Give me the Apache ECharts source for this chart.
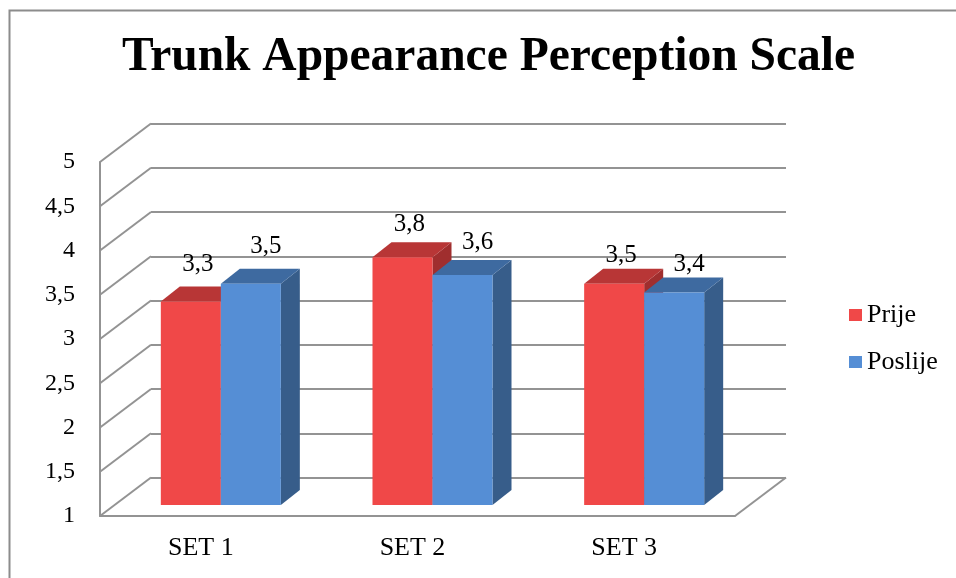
<!DOCTYPE html>
<html><head><meta charset="utf-8">
<script src="https://cdn.jsdelivr.net/npm/echarts@6/dist/echarts.min.js"></script>
<style>html,body{margin:0;padding:0;background:#fff}#c{width:956px;height:578px}</style>
</head><body><div id="c"></div>
<script>
const chartTitle = 'Trunk Appearance Perception Scale';
const categories = ['SET 1', 'SET 2', 'SET 3'];
const seriesNames = ['Prije', 'Poslije'];
const prije = [3.3, 3.8, 3.5];
const poslije = [3.5, 3.6, 3.4];
const yTicks = [1, 1.5, 2, 2.5, 3, 3.5, 4, 4.5, 5];

const Y_MIN = 1, Y_MAX = 5, Y_STEP = 0.5;
const FONT = '"Liberation Serif","Times New Roman",serif';
const GRID = {left: 100, top: 162, width: 635, height: 354};
const WALL = {dx: 51, dy: -38.5};
const BARPLANE = {dx: 15, dy: -11};
const BARDEPTH = {dx: 19, dy: -15};
const LINE = '#939393';
const LABEL_DX = [7, 15];
const colors = [
  {front: '#F04848', top: '#B83636', side: '#A02E2E'},
  {front: '#558ED5', top: '#3E6AA0', side: '#375D8A'}
];

function fmt(v) { return String(v).replace('.', ','); }

function barRender(si) {
  return function (params, api) {
    const idx = api.value(0), v = api.value(1);
    const top = api.coord([idx, v]);
    const base = api.coord([idx, Y_MIN]);
    const band = api.size([1, 0])[0];
    const w = band * 0.2835;
    const x0 = top[0] + BARPLANE.dx + (si === 0 ? -w : 0);
    const x1 = x0 + w;
    const yt = top[1] + BARPLANE.dy, yb = base[1] + BARPLANE.dy;
    const dx = BARDEPTH.dx, dy = BARDEPTH.dy;
    const c = colors[si];
    const lift = 37 - 4.5 * idx;
    return {type: 'group', children: [
      {type: 'polygon', shape: {points: [[x1, yt], [x1 + dx, yt + dy], [x1 + dx, yb + dy], [x1, yb]]}, style: {fill: c.side}},
      {type: 'polygon', shape: {points: [[x0, yt], [x0 + dx, yt + dy], [x1 + dx, yt + dy], [x1, yt]]}, style: {fill: c.top}},
      {type: 'rect', shape: {x: x0, y: yt, width: w, height: yb - yt}, style: {fill: c.front}},
      {type: 'text', z2: 100, style: {text: fmt(v), x: (x0 + x1) / 2 + LABEL_DX[si], y: yt - lift, align: 'center', verticalAlign: 'middle', font: '25px ' + FONT, fill: '#000'}}
    ]};
  };
}

function wallRender(params, api) {
  const v = api.value(1);
  const p = api.coord([0, v]);
  const cs = params.coordSys;
  const children = [
    {type: 'line', shape: {x1: cs.x, y1: p[1], x2: cs.x + WALL.dx, y2: p[1] + WALL.dy}, style: {stroke: LINE, lineWidth: 2}}
  ];
  if (v === Y_MIN) {
    children.push({type: 'line', shape: {x1: cs.x + cs.width, y1: p[1], x2: cs.x + cs.width + WALL.dx, y2: p[1] + WALL.dy}, style: {stroke: LINE, lineWidth: 2}});
  }
  return {type: 'group', children: children};
}

const chart = echarts.init(document.getElementById('c'), null, {renderer: 'canvas'});
chart.setOption({
  animation: false,
  backgroundColor: '#fff',
  title: {
    text: chartTitle, left: 117, top: 29,
    textStyle: {fontFamily: FONT, fontSize: 47.5, fontWeight: 'bold', color: '#000'}
  },
  legend: {
    orient: 'vertical', left: 844, top: 297, itemWidth: 13, itemHeight: 12, itemGap: 21,
    icon: 'rect', data: seriesNames,
    textStyle: {fontFamily: FONT, fontSize: 26, color: '#000'}
  },
  graphic: [{
    type: 'rect', left: 7, top: 8, z: -10,
    shape: {width: 1000, height: 620},
    style: {fill: 'none', stroke: '#8c8c8c', lineWidth: 2}
  }],
  grid: [
    {left: GRID.left, top: GRID.top, width: GRID.width, height: GRID.height},
    {left: GRID.left + WALL.dx, top: GRID.top + WALL.dy, width: GRID.width, height: GRID.height}
  ],
  xAxis: [
    {type: 'category', gridIndex: 0, data: categories,
      axisLine: {show: true, lineStyle: {color: LINE, width: 2}}, axisTick: {show: false},
      axisLabel: {fontFamily: FONT, fontSize: 26, color: '#000', margin: 19, padding: [0, 10, 0, 0]}},
    {type: 'category', gridIndex: 1, data: categories, show: false}
  ],
  yAxis: [
    {type: 'value', gridIndex: 0, min: Y_MIN, max: Y_MAX, interval: Y_STEP,
      axisLine: {show: true, lineStyle: {color: LINE, width: 2}}, axisTick: {show: false},
      splitLine: {show: false},
      axisLabel: {fontFamily: FONT, fontSize: 24, color: '#000', margin: 25, formatter: fmt}},
    {type: 'value', gridIndex: 1, min: Y_MIN, max: Y_MAX, interval: Y_STEP,
      axisLine: {show: false}, axisTick: {show: false}, axisLabel: {show: false},
      splitLine: {show: true, lineStyle: {color: LINE, width: 2}}}
  ],
  series: [
    {type: 'custom', name: 'wall', xAxisIndex: 0, yAxisIndex: 0, z: 1, silent: true,
      renderItem: wallRender, data: yTicks.map(v => [0, v])},
    {type: 'custom', name: seriesNames[0], xAxisIndex: 0, yAxisIndex: 0, z: 3,
      itemStyle: {color: colors[0].front}, renderItem: barRender(0),
      data: prije.map((v, i) => [i, v])},
    {type: 'custom', name: seriesNames[1], xAxisIndex: 0, yAxisIndex: 0, z: 4,
      itemStyle: {color: colors[1].front}, renderItem: barRender(1),
      data: poslije.map((v, i) => [i, v])}
  ]
});
</script>
</body></html>
